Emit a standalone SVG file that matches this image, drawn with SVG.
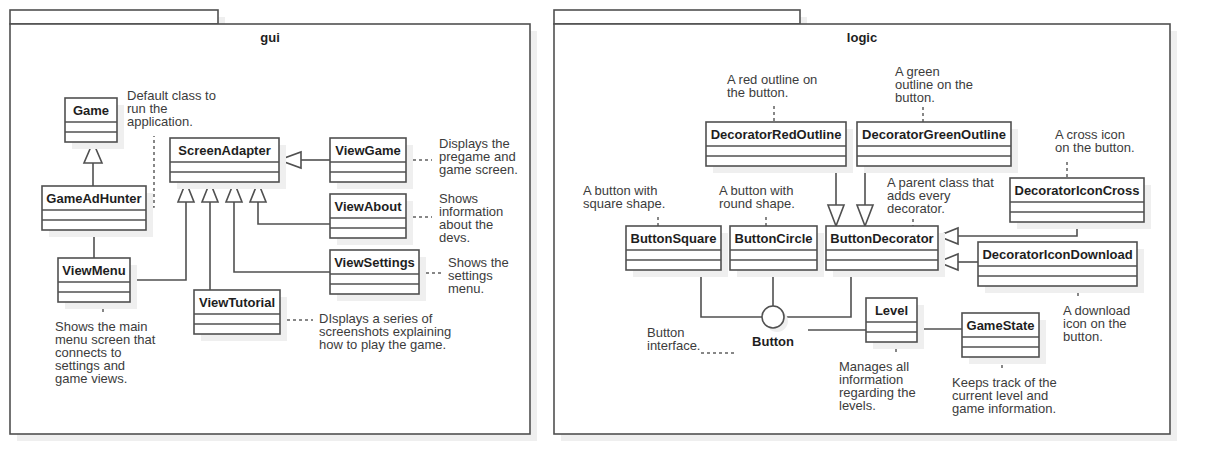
<svg xmlns="http://www.w3.org/2000/svg" width="1210" height="474" viewBox="0 0 1210 474">
<style>
.sh{fill:#efefef}
.box{fill:#fff;stroke:#505050;stroke-width:1.6}
.ln{stroke:#505050;stroke-width:1.6}
.t{font-family:"Liberation Sans",Arial,sans-serif;font-weight:bold;font-size:13px;fill:#1e1e1e;text-anchor:middle}
.n{font-family:"Liberation Sans",Arial,sans-serif;font-size:13px;fill:#3c3c3c}
.e{fill:none;stroke:#505050;stroke-width:1.6}
.tri{fill:#fff;stroke:#505050;stroke-width:1.6}
.d{fill:none;stroke:#606060;stroke-width:1.5;stroke-dasharray:3 3}
</style>
<rect width="1210" height="474" fill="#fff"/>
<g id="pkg-gui">
<rect class="sh" x="17" y="17" width="208" height="14"/>
<rect class="sh" x="17" y="31" width="520" height="410"/>
<rect class="box" x="10" y="10" width="208" height="14"/>
<rect class="box" x="10" y="24" width="520" height="410"/>
<text class="t" x="270" y="42">gui</text>
</g>
<g id="pkg-logic">
<rect class="sh" x="561" y="17" width="246" height="14"/>
<rect class="sh" x="561" y="31" width="616" height="410"/>
<rect class="box" x="554" y="10" width="246" height="14"/>
<rect class="box" x="554" y="24" width="616" height="410"/>
<text class="t" x="862" y="42">logic</text>
</g>
<g id="connectors">
<line class="e" x1="93" y1="186" x2="93" y2="163"/>
<polygon class="tri" points="93,142 84,163 102,163"/>
<line class="e" x1="94" y1="230" x2="94" y2="258"/>
<polyline class="e" points="130,280 186,280 186,202"/>
<polygon class="tri" points="186,182 178,202 194,202"/>
<line class="e" x1="210" y1="290" x2="210" y2="202"/>
<polygon class="tri" points="210,182 202,202 218,202"/>
<polyline class="e" points="330,272 234,272 234,202"/>
<polygon class="tri" points="234,182 226,202 242,202"/>
<polyline class="e" points="330,224 258,224 258,202"/>
<polygon class="tri" points="258,182 250,202 266,202"/>
<line class="e" x1="330" y1="160" x2="301" y2="160"/>
<polygon class="tri" points="279,160 301,152 301,168"/>
<polyline class="d" points="146,207 154,207 154,136"/>
<line class="d" x1="407" y1="160" x2="432" y2="160"/>
<line class="d" x1="407" y1="217" x2="432" y2="217"/>
<line class="d" x1="420" y1="273" x2="442" y2="273"/>
<line class="d" x1="281" y1="320" x2="313" y2="320"/>
<line class="d" x1="103" y1="303" x2="103" y2="312"/>
<line class="e" x1="836" y1="166" x2="836" y2="205"/>
<polygon class="tri" points="836,226 828,205 844,205"/>
<line class="e" x1="865" y1="166" x2="865" y2="205"/>
<polygon class="tri" points="865,226 857,205 873,205"/>
<polyline class="e" points="1077,222 1077,236 958,236"/>
<polygon class="tri" points="938,236 958,228 958,244"/>
<line class="e" x1="978" y1="262" x2="958" y2="262"/>
<polygon class="tri" points="938,262 958,254 958,270"/>
<polyline class="e" points="701,270 701,317 762,317"/>
<line class="e" x1="773" y1="270" x2="773" y2="306"/>
<polyline class="e" points="851,270 851,317 784,317"/>
<line class="e" x1="808" y1="330" x2="866" y2="330"/>
<line class="e" x1="917" y1="329" x2="962" y2="329"/>
<line class="d" x1="774" y1="106" x2="774" y2="122"/>
<line class="d" x1="923" y1="107" x2="923" y2="122"/>
<line class="d" x1="1067" y1="162" x2="1067" y2="178"/>
<line class="d" x1="913" y1="219" x2="913" y2="226"/>
<line class="d" x1="658" y1="217" x2="658" y2="226"/>
<line class="d" x1="766" y1="217" x2="766" y2="226"/>
<line class="d" x1="1078" y1="287" x2="1078" y2="298"/>
<line class="d" x1="896" y1="343" x2="896" y2="354"/>
<line class="d" x1="1002" y1="359" x2="1002" y2="368"/>
<line class="d" x1="701" y1="353" x2="737" y2="353"/>
</g>
<g id="Game"><rect class="sh" x="72" y="105" width="52" height="44"/><rect class="box" x="65" y="98" width="52" height="44"/><line class="ln" x1="65" y1="122" x2="117" y2="122"/><line class="ln" x1="65" y1="132" x2="117" y2="132"/><text class="t" x="91" y="115">Game</text></g>
<g id="GameAdHunter"><rect class="sh" x="49" y="193" width="104" height="44"/><rect class="box" x="42" y="186" width="104" height="44"/><line class="ln" x1="42" y1="210" x2="146" y2="210"/><line class="ln" x1="42" y1="220" x2="146" y2="220"/><text class="t" x="94" y="203">GameAdHunter</text></g>
<g id="ScreenAdapter"><rect class="sh" x="177" y="145" width="109" height="44"/><rect class="box" x="170" y="138" width="109" height="44"/><line class="ln" x1="170" y1="162" x2="279" y2="162"/><line class="ln" x1="170" y1="172" x2="279" y2="172"/><text class="t" x="224.500" y="155">ScreenAdapter</text></g>
<g id="ViewGame"><rect class="sh" x="337" y="145" width="76" height="44"/><rect class="box" x="330" y="138" width="76" height="44"/><line class="ln" x1="330" y1="162" x2="406" y2="162"/><line class="ln" x1="330" y1="172" x2="406" y2="172"/><text class="t" x="368" y="155">ViewGame</text></g>
<g id="ViewAbout"><rect class="sh" x="337" y="201" width="76" height="44"/><rect class="box" x="330" y="194" width="76" height="44"/><line class="ln" x1="330" y1="218" x2="406" y2="218"/><line class="ln" x1="330" y1="228" x2="406" y2="228"/><text class="t" x="368" y="211">ViewAbout</text></g>
<g id="ViewSettings"><rect class="sh" x="337" y="257" width="89" height="44"/><rect class="box" x="330" y="250" width="89" height="44"/><line class="ln" x1="330" y1="274" x2="419" y2="274"/><line class="ln" x1="330" y1="284" x2="419" y2="284"/><text class="t" x="374.500" y="267">ViewSettings</text></g>
<g id="ViewMenu"><rect class="sh" x="65" y="265" width="72" height="44"/><rect class="box" x="58" y="258" width="72" height="44"/><line class="ln" x1="58" y1="282" x2="130" y2="282"/><line class="ln" x1="58" y1="292" x2="130" y2="292"/><text class="t" x="94" y="275">ViewMenu</text></g>
<g id="ViewTutorial"><rect class="sh" x="201" y="297" width="86" height="44"/><rect class="box" x="194" y="290" width="86" height="44"/><line class="ln" x1="194" y1="314" x2="280" y2="314"/><line class="ln" x1="194" y1="324" x2="280" y2="324"/><text class="t" x="237" y="307">ViewTutorial</text></g>
<g id="DecoratorRedOutline"><rect class="sh" x="713" y="129" width="140" height="44"/><rect class="box" x="706" y="122" width="140" height="44"/><line class="ln" x1="706" y1="146" x2="846" y2="146"/><line class="ln" x1="706" y1="156" x2="846" y2="156"/><text class="t" x="776" y="139">DecoratorRedOutline</text></g>
<g id="DecoratorGreenOutline"><rect class="sh" x="864" y="129" width="154" height="44"/><rect class="box" x="857" y="122" width="154" height="44"/><line class="ln" x1="857" y1="146" x2="1011" y2="146"/><line class="ln" x1="857" y1="156" x2="1011" y2="156"/><text class="t" x="934" y="139">DecoratorGreenOutline</text></g>
<g id="DecoratorIconCross"><rect class="sh" x="1017" y="185" width="134" height="44"/><rect class="box" x="1010" y="178" width="134" height="44"/><line class="ln" x1="1010" y1="202" x2="1144" y2="202"/><line class="ln" x1="1010" y1="212" x2="1144" y2="212"/><text class="t" x="1077" y="195">DecoratorIconCross</text></g>
<g id="ButtonSquare"><rect class="sh" x="633" y="233" width="95" height="44"/><rect class="box" x="626" y="226" width="95" height="44"/><line class="ln" x1="626" y1="250" x2="721" y2="250"/><line class="ln" x1="626" y1="260" x2="721" y2="260"/><text class="t" x="673.500" y="243">ButtonSquare</text></g>
<g id="ButtonCircle"><rect class="sh" x="737" y="233" width="87" height="44"/><rect class="box" x="730" y="226" width="87" height="44"/><line class="ln" x1="730" y1="250" x2="817" y2="250"/><line class="ln" x1="730" y1="260" x2="817" y2="260"/><text class="t" x="773.500" y="243">ButtonCircle</text></g>
<g id="ButtonDecorator"><rect class="sh" x="833" y="233" width="112" height="44"/><rect class="box" x="826" y="226" width="112" height="44"/><line class="ln" x1="826" y1="250" x2="938" y2="250"/><line class="ln" x1="826" y1="260" x2="938" y2="260"/><text class="t" x="882" y="243">ButtonDecorator</text></g>
<g id="DecoratorIconDownload"><rect class="sh" x="985" y="249" width="159" height="44"/><rect class="box" x="978" y="242" width="159" height="44"/><line class="ln" x1="978" y1="266" x2="1137" y2="266"/><line class="ln" x1="978" y1="276" x2="1137" y2="276"/><text class="t" x="1057.500" y="259">DecoratorIconDownload</text></g>
<g id="Level"><rect class="sh" x="873" y="305" width="51" height="44"/><rect class="box" x="866" y="298" width="51" height="44"/><line class="ln" x1="866" y1="322" x2="917" y2="322"/><line class="ln" x1="866" y1="332" x2="917" y2="332"/><text class="t" x="891.500" y="315">Level</text></g>
<g id="GameState"><rect class="sh" x="969" y="320" width="77" height="44"/><rect class="box" x="962" y="313" width="77" height="44"/><line class="ln" x1="962" y1="337" x2="1039" y2="337"/><line class="ln" x1="962" y1="347" x2="1039" y2="347"/><text class="t" x="1000.500" y="330">GameState</text></g>
<g id="Button"><circle class="sh" cx="777" cy="321" r="11"/><circle class="box" cx="773" cy="317" r="11"/><text class="t" x="773" y="346">Button</text></g>
<g id="notes">
<text class="n" x="127" y="100">Default class to</text>
<text class="n" x="127" y="113">run the</text>
<text class="n" x="127" y="126">application.</text>
<text class="n" x="439" y="148">Displays the</text>
<text class="n" x="439" y="161">pregame and</text>
<text class="n" x="439" y="174">game screen.</text>
<text class="n" x="439" y="203">Shows</text>
<text class="n" x="439" y="216">information</text>
<text class="n" x="439" y="229">about the</text>
<text class="n" x="439" y="242">devs.</text>
<text class="n" x="448" y="267">Shows the</text>
<text class="n" x="448" y="280">settings</text>
<text class="n" x="448" y="293">menu.</text>
<text class="n" x="319" y="323">DIsplays a series of</text>
<text class="n" x="319" y="336">screenshots explaining</text>
<text class="n" x="319" y="349">how to play the game.</text>
<text class="n" x="55" y="331">Shows the main</text>
<text class="n" x="55" y="344">menu screen that</text>
<text class="n" x="55" y="357">connects to</text>
<text class="n" x="55" y="370">settings and</text>
<text class="n" x="55" y="383">game views.</text>
<text class="n" x="727" y="84">A red outline on</text>
<text class="n" x="727" y="97">the button.</text>
<text class="n" x="895" y="76">A green</text>
<text class="n" x="895" y="89">outline on the</text>
<text class="n" x="895" y="102">button.</text>
<text class="n" x="1055" y="139">A cross icon</text>
<text class="n" x="1055" y="152">on the button.</text>
<text class="n" x="887" y="187">A parent class that</text>
<text class="n" x="887" y="200">adds every</text>
<text class="n" x="887" y="213">decorator.</text>
<text class="n" x="583" y="195">A button with</text>
<text class="n" x="583" y="208">square shape.</text>
<text class="n" x="719" y="195">A button with</text>
<text class="n" x="719" y="208">round shape.</text>
<text class="n" x="1063" y="315">A download</text>
<text class="n" x="1063" y="328">icon on the</text>
<text class="n" x="1063" y="341">button.</text>
<text class="n" x="839" y="371">Manages all</text>
<text class="n" x="839" y="384">information</text>
<text class="n" x="839" y="397">regarding the</text>
<text class="n" x="839" y="410">levels.</text>
<text class="n" x="952" y="387">Keeps track of the</text>
<text class="n" x="952" y="400">current level and</text>
<text class="n" x="952" y="413">game information.</text>
<text class="n" x="647" y="337">Button</text>
<text class="n" x="647" y="350">interface.</text>
</g>
</svg>
